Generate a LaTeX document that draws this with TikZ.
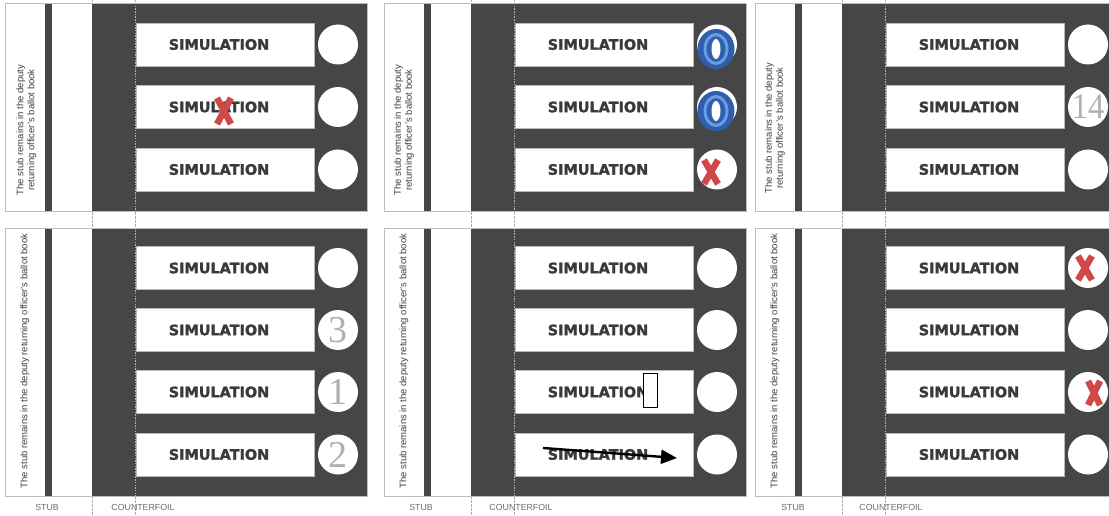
\documentclass[tikz,border=0pt]{standalone}
\usepackage{fontspec}
\setmainfont{Liberation Sans}
\newfontfamily\digitfont{Liberation Serif}
\newfontfamily\heavyfont{DejaVu Sans Bold}[FakeBold=1.6]
\usetikzlibrary{arrows.meta}
\definecolor{paneldark}{HTML}{464646}
\definecolor{simgray}{HTML}{3A3A3A}
\definecolor{edgegray}{HTML}{BDBDBD}
\definecolor{markred}{HTML}{D04848}
\definecolor{ringblue}{HTML}{2D5FAE}
\definecolor{ringlight}{HTML}{6A9BDE}
\definecolor{numgray}{HTML}{B0B0B0}
\tikzset{
  ballotbox/.style={draw=gray!55, line width=0.4pt, fill=white, minimum width=178pt, minimum height=43pt, inner sep=0pt},
  simtext/.style={font=\heavyfont\fontsize{14.4}{16}\selectfont, text=simgray, inner sep=0pt},
  ballotcircle/.style={circle, fill=white, minimum size=40pt, inner sep=0pt},
  numtext/.style={font=\digitfont\fontsize{38}{38}\selectfont, text=numgray, inner sep=0pt},
  stubtext/.style={rotate=90, font=\fontsize{9.5}{11}\selectfont, text=black!75, align=center, inner sep=0pt},
  footlabel/.style={font=\fontsize{8.8}{10}\selectfont, text=gray!85!black, inner sep=0pt},
  gapdash/.style={draw=gray!65, dashed, dash pattern=on 2.5pt off 1.5pt, line width=0.6pt},
  perfdark/.style={draw=gray!60, dashed, dash pattern=on 1.5pt off 1.2pt, line width=0.6pt},
  outline/.style={draw=edgegray, line width=0.7pt},
  redx/.style={draw=markred, line width=6.5pt, line cap=butt},
  markarrow/.style={draw=black, line width=2.4pt, -{Triangle[length=16pt,width=14pt]}},
  coverbox/.style={draw=black, fill=white, line width=0.8pt, minimum width=14pt, minimum height=34pt, inner sep=0pt}
}
% panel background: #1 ytop, #2 ybot (inside a shifted scope)
\newcommand\PanelBack[2]{%
  \fill[white] (0,#1) rectangle (362,#2);
  \fill[paneldark] (87,#1) rectangle (362,#2);
  \fill[paneldark] (40,#1) rectangle (47,#2);
  \draw[outline] (0,#1) rectangle (362,#2);
  \draw[perfdark] (130,#1) -- (130,#2);}
\newcommand\TopRows[1]{%
  \foreach \r/\yy in {1/44.5,2/107,3/169.5}{%
    \node[ballotbox] (#1-box\r) at (220,\yy) {};
    \node[simtext] (#1-txt\r) at (214,\yy) {SIMULATION};
    \node[ballotcircle] (#1-c\r) at (333,\yy) {};
  }}
\newcommand\BottomRows[1]{%
  \foreach \r/\yy in {1/268,2/330,3/392,4/454.5}{%
    \node[ballotbox] (#1-box\r) at (220,\yy) {};
    \node[simtext] (#1-txt\r) at (214,\yy) {SIMULATION};
    \node[ballotcircle] (#1-c\r) at (333,\yy) {};
  }}
\newcommand\RedCross[4]{% x, y, half width, half height
  \draw[redx] (#1-#3,#2-#4) -- (#1+#3,#2+#4);
  \draw[redx] (#1+#3,#2-#4) -- (#1-#3,#2+#4);}
\newcommand\BlueRing[2]{%
  \fill[ringblue] (#1,#2) ellipse [x radius=18.5, y radius=20];
  \draw[ringlight, line width=3pt] (#1,#2) ellipse [x radius=11, y radius=14.5];
  \fill[white] (#1,#2) ellipse [x radius=4.5, y radius=10];}
\begin{document}
\begin{tikzpicture}[x=1pt,y=-1pt]
\useasboundingbox (0,0) rectangle (1109,516);
\clip (0,0) rectangle (1109,516);
\fill[white] (0,0) rectangle (1109,516);

% perforation guides between and below the panels
\foreach \xo in {5,384,755}{%
  \draw[gapdash] (\xo+87,0) -- (\xo+87,516);
  \draw[gapdash] (\xo+130,0) -- (\xo+130,516);
}

% ---------- panel 1 ----------
\begin{scope}[xshift=5pt]
  \PanelBack{3}{211}
  \PanelBack{228}{496}
  \node[stubtext] (pA-stub) at (21.5,130) {The stub remains in the deputy\\returning officer's ballot book};
  \node[stubtext] (pB-stub) at (20,361) {The stub remains in the deputy returning officer's ballot book};
  \TopRows{pA}
  \BottomRows{pB}
  \RedCross{219}{111}{7}{13}
  \node[numtext] (pB-n2) at (pB-c2) {3};
  \node[numtext] (pB-n3) at (pB-c3) {1};
  \node[numtext] (pB-n4) at (pB-c4) {2};
  \node[footlabel] (pB-stublbl) at (42,507) {STUB};
  \node[footlabel] (pB-cflbl) at (138,507) {COUNTERFOIL};
\end{scope}

% ---------- panel 2 ----------
\begin{scope}[xshift=384pt]
  \PanelBack{3}{211}
  \PanelBack{228}{496}
  \node[stubtext] (pC-stub) at (20,130) {The stub remains in the deputy\\returning officer's ballot book};
  \node[stubtext] (pD-stub) at (20,361) {The stub remains in the deputy returning officer's ballot book};
  \TopRows{pC}
  \BottomRows{pD}
  \BlueRing{332}{49}
  \BlueRing{332}{111}
  \RedCross{327}{172}{7}{12}
  \node[coverbox] (pD-cover) at (266,390) {};
  \coordinate (pD-as) at (159,448);
  \coordinate (pD-ae) at (293,458);
  \draw[markarrow] (pD-as) -- (pD-ae);
  \node[footlabel] (pD-stublbl) at (37,507) {STUB};
  \node[footlabel] (pD-cflbl) at (137,507) {COUNTERFOIL};
\end{scope}

% ---------- panel 3 ----------
\begin{scope}[xshift=755pt]
  \PanelBack{3}{211}
  \PanelBack{228}{496}
  \node[stubtext] (pE-stub) at (20,128) {The stub remains in the deputy\\returning officer's ballot book};
  \node[stubtext] (pF-stub) at (20,361) {The stub remains in the deputy returning officer's ballot book};
  \TopRows{pE}
  \BottomRows{pF}
  \node[numtext, font=\digitfont\fontsize{36}{36}\selectfont, xscale=0.9] (pE-n2) at (pE-c2) {14};
  \RedCross{330}{268}{7}{12}
  \RedCross{339}{393}{6}{12}
  \node[footlabel] (pF-stublbl) at (38,507) {STUB};
  \node[footlabel] (pF-cflbl) at (136,507) {COUNTERFOIL};
\end{scope}
\end{tikzpicture}
\end{document}
